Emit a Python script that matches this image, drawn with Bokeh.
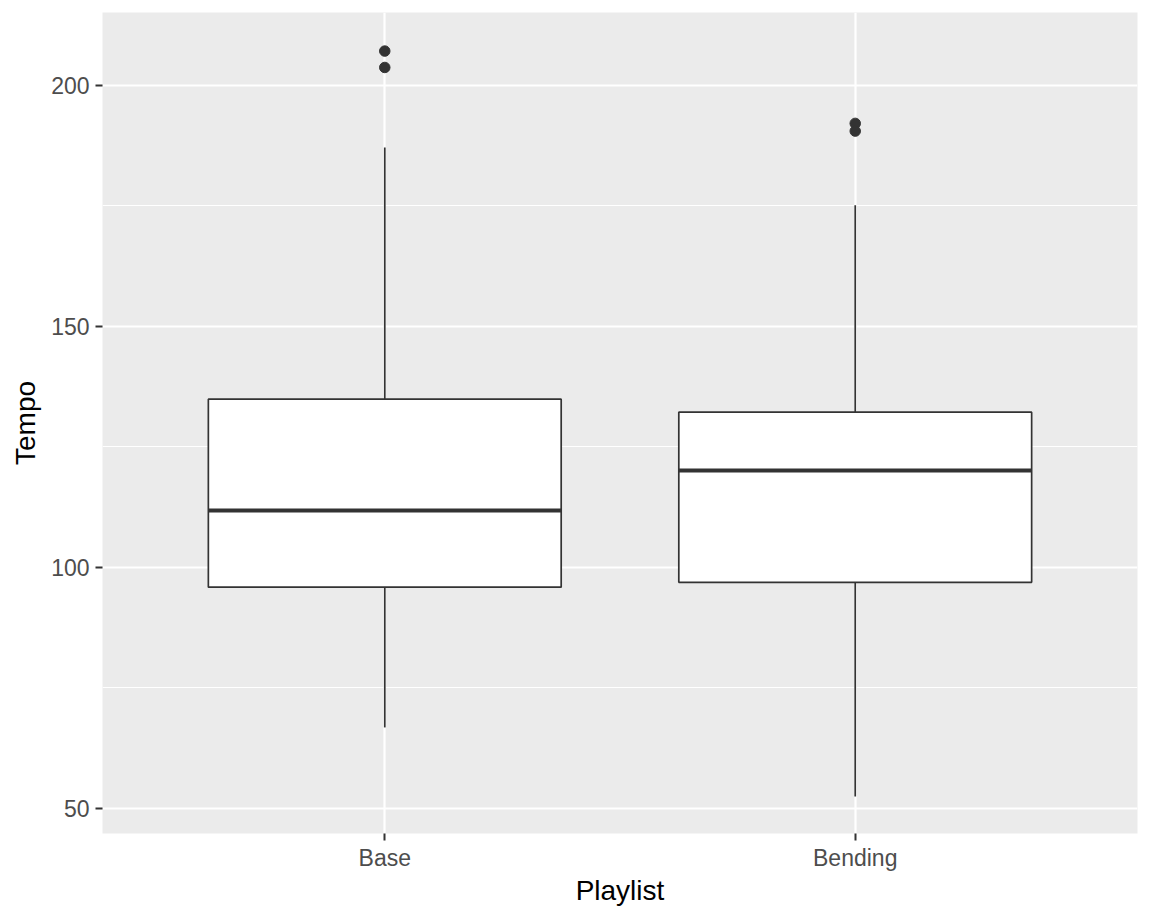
from bokeh.plotting import figure
from bokeh.models import Range1d, FixedTicker, ColumnDataSource
from bokeh.embed import file_html
from bokeh.resources import INLINE

# ---- data ----
categories = ["Base", "Bending"]
q1 = [95.9, 96.9]
median = [111.8, 120.1]
q3 = [134.9, 132.2]
whisker_low = [66.8, 52.5]
whisker_high = [187.1, 175.1]
outlier_cat = ["Base", "Base", "Bending", "Bending"]
outlier_val = [207.1, 203.7, 192.1, 190.5]
y_ticks = [50, 100, 150, 200]
y_minor = [75, 125, 175]

pos = {c: i + 1 for i, c in enumerate(categories)}
half = 0.375
xs = [pos[c] for c in categories]

box_src = ColumnDataSource(dict(
    x=xs, left=[x - half for x in xs], right=[x + half for x in xs],
    q1=q1, q3=q3, med=median, lo=whisker_low, hi=whisker_high))
out_src = ColumnDataSource(dict(x=[pos[c] for c in outlier_cat], y=outlier_val))

p = figure(width=1152, height=921, output_backend="svg", toolbar_location=None,
           x_range=Range1d(0.4, 2.6), y_range=Range1d(44.8, 215.1),
           min_border_left=102, min_border_right=15, min_border_top=12,
           min_border_bottom=88)
p.background_fill_color = "#EBEBEB"
p.border_fill_color = "white"
p.outline_line_color = None

# grid
p.xaxis.ticker = FixedTicker(ticks=xs)
p.xaxis.major_label_overrides = {x: c for x, c in zip(xs, categories)}
p.yaxis.ticker = FixedTicker(ticks=y_ticks, minor_ticks=y_minor)
p.xgrid.grid_line_color = "white"
p.xgrid.grid_line_width = 2.2
p.ygrid.grid_line_color = "white"
p.ygrid.grid_line_width = 2.2
p.ygrid.minor_grid_line_color = "white"
p.ygrid.minor_grid_line_width = 1.1

# axes
for ax in (p.xaxis[0], p.yaxis[0]):
    ax.axis_line_color = None
    ax.major_tick_in = 0
    ax.major_tick_out = 7
    ax.major_tick_line_color = "#333333"
    ax.major_tick_line_width = 2
    ax.minor_tick_line_color = None
    ax.major_label_text_font = "Liberation Sans"
    ax.major_label_text_font_size = "23px"
    ax.major_label_text_color = "#4D4D4D"
    ax.axis_label_text_font = "Liberation Sans"
    ax.axis_label_text_font_size = "28px"
    ax.axis_label_text_font_style = "normal"
    ax.axis_label_text_color = "black"
p.xaxis.axis_label = "Playlist"
p.yaxis.axis_label = "Tempo"
p.xaxis.major_label_standoff = 4
p.yaxis.major_label_standoff = 6
p.xaxis.axis_label_standoff = 1
p.yaxis.axis_label_standoff = 7

# whiskers
p.segment(x0="x", y0="q3", x1="x", y1="hi", source=box_src, line_color="#333333", line_width=1.7)
p.segment(x0="x", y0="q1", x1="x", y1="lo", source=box_src, line_color="#333333", line_width=1.7)
# boxes
p.quad(left="left", right="right", bottom="q1", top="q3", source=box_src,
       fill_color="white", line_color="#333333", line_width=1.7)
# medians
p.segment(x0="left", y0="med", x1="right", y1="med", source=box_src,
          line_color="#333333", line_width=3.8)
# outliers
p.scatter(x="x", y="y", source=out_src, size=10.5, fill_color="#333333", line_color="#333333")

open("out.html", "w").write(file_html(p, INLINE))
